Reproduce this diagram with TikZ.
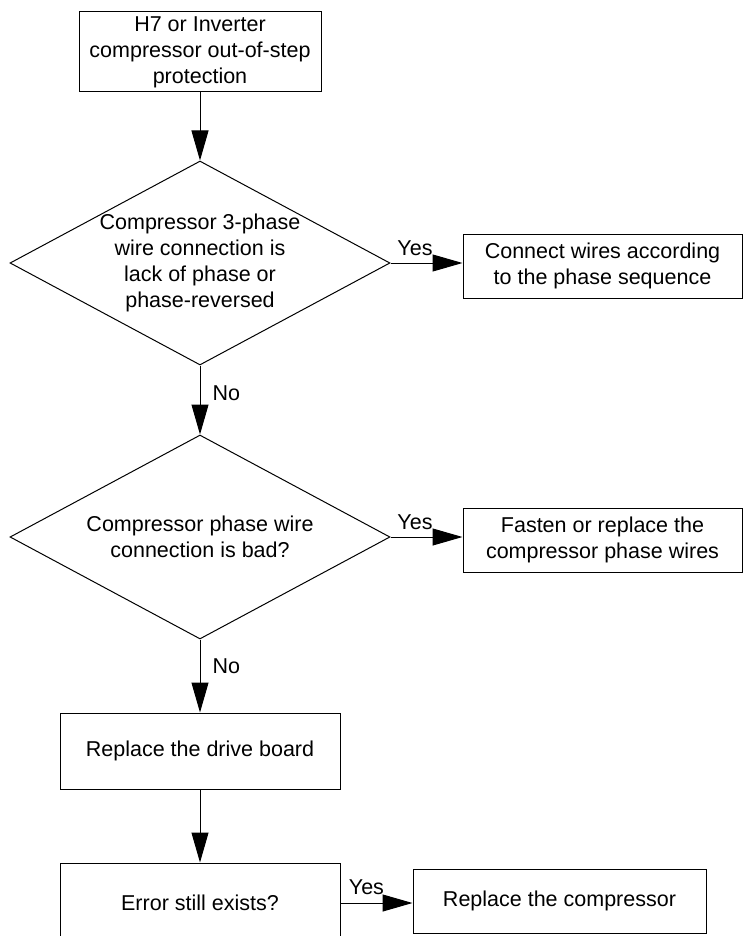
\documentclass[tikz,border=0pt]{standalone}
\usepackage{fontspec}
\setmainfont{Liberation Sans}
\usetikzlibrary{shapes.geometric,arrows.meta}
\begin{document}
\begin{tikzpicture}[x=1pt,y=-1pt,
  font=\fontsize{21.5}{26}\selectfont,
  line width=1pt,
  box/.style={draw, rectangle, align=center, inner sep=0pt},
  dec/.style={draw, diamond, align=center, aspect=1.86, inner xsep=-5pt, inner ysep=-3pt,
              minimum width=380pt, minimum height=204pt},
  arr/.style={-{Triangle[length=30pt,width=17pt]}},
  lbl/.style={inner sep=0pt}]
\clip (0,0) rectangle (744,936);
\node[box, minimum width=242pt, minimum height=80pt] (start) at (200,52)
  {H7 or Inverter\\compressor out-of-step\\protection};
\node[dec] (d1) at (200,263)
  {Compressor 3-phase\\wire connection is\\lack of phase or\\phase-reversed};
\node[box, minimum width=279pt, minimum height=64pt] (c1) at (602.5,266)
  {Connect wires according\\to the phase sequence};
\node[dec] (d2) at (200,537)
  {Compressor phase wire\\connection is bad?};
\node[box, minimum width=279pt, minimum height=64pt] (c2) at (602.5,540)
  {Fasten or replace the\\compressor phase wires};
\node[box, minimum width=280pt, minimum height=76pt] (drive) at (200,751)
  {Replace the drive board};
\node[box, minimum width=280pt, minimum height=80pt] (err) at (200,903)
  {Error still exists?};
\node[box, minimum width=293pt, minimum height=64pt] (comp) at (559.5,901)
  {Replace the compressor};

\draw[arr] (start) -- (d1);
\draw[arr] (d1.east) -- (d1.east -| c1.west) node[lbl, pos=0.34, above=7pt] {Yes};
\draw[arr] (d1) -- (d2) node[lbl, pos=0.4, right=12pt] {No};
\draw[arr] (d2.east) -- (d2.east -| c2.west) node[lbl, pos=0.34, above=7pt] {Yes};
\draw[arr] (d2) -- (drive) node[lbl, pos=0.36, right=12pt] {No};
\draw[arr] (drive) -- (err);
\draw[arr] (err.east) -- (err.east -| comp.west) node[lbl, pos=0.36, above=8pt] {Yes};
\end{tikzpicture}
\end{document}
